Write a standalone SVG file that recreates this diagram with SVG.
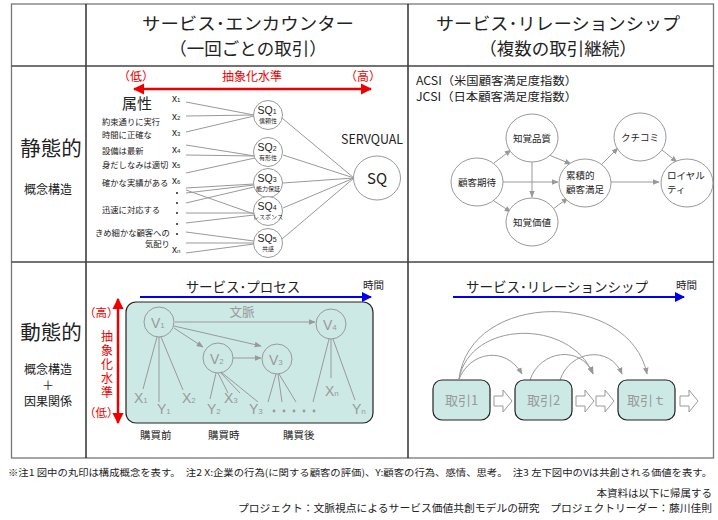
<svg xmlns="http://www.w3.org/2000/svg" width="718" height="520" viewBox="0 0 718 520">
<style>
text{font-family:"Noto Sans CJK JP","Noto Sans",sans-serif;fill:#222}
.hd{font-size:17.5px;text-anchor:middle}
.lbig{font-size:20.5px;text-anchor:middle}
.lsm{font-size:12px;text-anchor:middle}
.red{fill:#e00;font-size:12px}
.attr{font-size:8.3px}
.xl{font-size:10px;font-family:"Liberation Sans",sans-serif}
.xs{font-size:6px}
.gl{stroke:#999;stroke-width:1;fill:none}
.circ{fill:#fff;stroke:#999;stroke-width:1}
.sqt{font-size:10.5px;text-anchor:middle;font-family:"Liberation Sans",sans-serif}
.sqs{font-size:6px;text-anchor:middle}
.el{font-size:9.5px;text-anchor:middle}
.els{font-size:9.5px;text-anchor:start}
.gt{fill:#999}
.teal{fill:#cde9e6;stroke:#222;stroke-width:1.2}
.vt{font-size:14px;fill:#999;font-family:"Liberation Sans",sans-serif}
.vs{font-size:8px;fill:#999;font-family:"Liberation Sans",sans-serif}
.foot{font-size:9.5px}
.foot2{font-size:10.5px;text-anchor:end}
.vch{fill:#e00;font-size:11.5px}
.vert{fill:#e00;font-size:12px;writing-mode:vertical-rl;letter-spacing:2px}
</style>
<defs>
<marker id="ag" viewBox="0 0 10 10" refX="9" refY="5" markerWidth="7" markerHeight="7" orient="auto"><path d="M0,1 L10,5 L0,9 Z" fill="#999"/></marker>
<marker id="ab" viewBox="0 0 10 10" refX="9" refY="5" markerWidth="5" markerHeight="5" orient="auto"><path d="M0,0 L10,5 L0,10 Z" fill="#0000ee"/></marker>
<marker id="ar" viewBox="0 0 10 10" refX="9" refY="5" markerWidth="4.5" markerHeight="4.5" orient="auto-start-reverse"><path d="M0,0 L10,5 L0,10 Z" fill="#ee0000"/></marker>
</defs>
<rect width="718" height="520" fill="#fff"/>

<g id="table" stroke="#444" stroke-width="1.3" fill="none">
<rect x="11.5" y="4" width="702" height="454" stroke="#777"/>
<line x1="86" y1="4" x2="86" y2="458" stroke="#111"/>
<line x1="408" y1="4" x2="408" y2="458" stroke="#111"/>
<line x1="11.5" y1="66" x2="713.5" y2="66"/>
<line x1="11.5" y1="262" x2="713.5" y2="262"/>
</g>

<g id="headers">
<text class="hd" x="248" y="30" textLength="212" lengthAdjust="spacingAndGlyphs">サービス･エンカウンター</text>
<text class="hd" x="248" y="55">（一回ごとの取引）</text>
<text class="hd" x="558" y="30" textLength="244" lengthAdjust="spacingAndGlyphs">サービス･リレーションシップ</text>
<text class="hd" x="558" y="55">（複数の取引継続）</text>
<text class="lbig" x="51" y="156">静態的</text>
<text class="lsm" x="48" y="194">概念構造</text>
<text class="lbig" x="51" y="340">動態的</text>
<text class="lsm" x="48" y="374">概念構造</text>
<text class="lsm" x="48" y="390">＋</text>
<text class="lsm" x="48" y="406">因果関係</text>
</g>

<g id="servqual">
<text class="red" x="118" y="81">（低）</text>
<text class="red" x="222" y="81">抽象化水準</text>
<text class="red" x="345" y="81">（高）</text>
<line x1="134" y1="89" x2="371" y2="89" stroke="#ee0000" stroke-width="2.5" marker-start="url(#ar)" marker-end="url(#ar)"/>
<text x="122" y="109" font-size="15">属性</text>
<text class="attr" x="102" y="125">約束通りに実行</text>
<text class="attr" x="102" y="138">時間に正確な</text>
<text class="attr" x="102" y="154">設備は最新</text>
<text class="attr" x="102" y="168">身だしなみは適切</text>
<text class="attr" x="102" y="186">確かな実績がある</text>
<text class="attr" x="102" y="213">迅速に対応する</text>
<text class="attr" x="95" y="236">きめ細かな顧客への</text>
<text class="attr" x="145" y="247">気配り</text>
<text class="xl" x="172" y="102">x<tspan class="xs">1</tspan></text>
<text class="xl" x="172" y="120">x<tspan class="xs">2</tspan></text>
<text class="xl" x="172" y="136">x<tspan class="xs">3</tspan></text>
<text class="xl" x="172" y="153">x<tspan class="xs">4</tspan></text>
<text class="xl" x="172" y="168">x<tspan class="xs">5</tspan></text>
<text class="xl" x="172" y="184">x<tspan class="xs">6</tspan></text>
<g fill="#222"><circle cx="177" cy="193" r="1"/><circle cx="177" cy="203" r="1"/><circle cx="177" cy="213" r="1"/><circle cx="177" cy="224" r="1"/><circle cx="177" cy="234" r="1"/></g>
<text class="xl" x="172" y="253">x<tspan class="xs">n</tspan></text>
<g class="gl">
<line x1="186" y1="102" x2="254" y2="115"/>
<line x1="186" y1="116" x2="254" y2="115"/>
<line x1="186" y1="132" x2="254" y2="116"/>
<line x1="186" y1="145" x2="255" y2="156"/>
<line x1="186" y1="155" x2="255" y2="156"/>
<line x1="186" y1="173" x2="255" y2="158"/>
<line x1="186" y1="188" x2="254" y2="184"/>
<line x1="186" y1="193" x2="254" y2="185"/>
<line x1="186" y1="203" x2="254" y2="187"/>
<line x1="186" y1="190" x2="254" y2="214"/>
<line x1="186" y1="213" x2="254" y2="213"/>
<line x1="186" y1="223" x2="254" y2="215"/>
<line x1="186" y1="232" x2="254" y2="241"/>
<line x1="186" y1="243" x2="254" y2="243"/>
<line x1="186" y1="253" x2="254" y2="244"/>
<line x1="282" y1="118" x2="354" y2="178"/>
<line x1="283" y1="155" x2="354" y2="178"/>
<line x1="283" y1="183" x2="354" y2="178"/>
<line x1="283" y1="208" x2="354" y2="178"/>
<line x1="282" y1="239" x2="354" y2="178"/>
</g>
</g>

<g id="sq1"><circle class="circ" cx="268" cy="115" r="14.5"/><text class="sqt" x="267" y="114">SQ<tspan font-size="7">1</tspan></text><text class="sqs" x="268" y="123">信頼性</text></g>
<g id="sq2"><circle class="circ" cx="268" cy="152" r="14.5"/><text class="sqt" x="267" y="151">SQ<tspan font-size="7">2</tspan></text><text class="sqs" x="268" y="160">有形性</text></g>
<g id="sq3"><circle class="circ" cx="268" cy="183" r="14.5"/><text class="sqt" x="267" y="182">SQ<tspan font-size="7">3</tspan></text><text class="sqs" x="268" y="191">能力保証</text></g>
<g id="sq4"><circle class="circ" cx="268" cy="211" r="14.5"/><text class="sqt" x="267" y="210">SQ<tspan font-size="7">4</tspan></text><text class="sqs" x="268" y="219">レスポンス</text></g>
<g id="sq5"><circle class="circ" cx="268" cy="243" r="14.5"/><text class="sqt" x="267" y="242">SQ<tspan font-size="7">5</tspan></text><text class="sqs" x="268" y="251">共感</text></g>
<g id="sq"><text x="372" y="144" font-size="13" text-anchor="middle" font-family="Liberation Sans,sans-serif" textLength="62" lengthAdjust="spacingAndGlyphs">SERVQUAL</text><ellipse class="circ" cx="377" cy="178" rx="23.5" ry="22"/><text x="377" y="184" font-size="15" text-anchor="middle" font-family="Liberation Sans,sans-serif">SQ</text></g>

<g id="acsi">
<text x="416" y="85" font-size="11.5" textLength="161" lengthAdjust="spacingAndGlyphs">ACSI（米国顧客満足度指数）</text>
<text x="416" y="101" font-size="11.5" textLength="161" lengthAdjust="spacingAndGlyphs">JCSI（日本顧客満足度指数）</text>
</g>
<g id="acsi-connectors" class="gl" marker-end="url(#ag)">
<line x1="494" y1="163" x2="511" y2="150"/>
<line x1="494" y1="201" x2="511" y2="212"/>
<line x1="503" y1="182" x2="558" y2="182"/>
<line x1="532" y1="162" x2="532" y2="197"/>
<line x1="549" y1="155" x2="571" y2="164"/>
<line x1="553" y1="209" x2="568" y2="198"/>
<line x1="602" y1="164" x2="618" y2="148"/>
<line x1="611" y1="182" x2="659" y2="182"/>
<line x1="662" y1="150" x2="677" y2="162"/>
</g>
<g id="kitai"><ellipse class="circ" cx="477" cy="182" rx="26" ry="24"/><text class="el" x="477" y="186">顧客期待</text></g>
<g id="hinshitsu"><ellipse class="circ" cx="532" cy="138" rx="26" ry="24"/><text class="el" x="532" y="142">知覚品質</text></g>
<g id="kachi"><ellipse class="circ" cx="532" cy="222" rx="26" ry="24"/><text class="el" x="532" y="226">知覚価値</text></g>
<g id="manzoku"><ellipse class="circ" cx="585" cy="183" rx="26" ry="24"/><text class="els" x="566" y="179">累積的</text><text class="els" x="566" y="193">顧客満足</text></g>
<g id="kuchikomi"><ellipse class="circ" cx="640" cy="137" rx="26" ry="24"/><text class="el" x="640" y="141">クチコミ</text></g>
<g id="loyalty"><ellipse class="circ" cx="687" cy="183" rx="26" ry="24"/><text class="els" x="667" y="179">ロイヤル</text><text class="els" x="667" y="193">ティ</text></g>

<g id="process">
<text x="243" y="292" font-size="13.5" text-anchor="middle">サービス･プロセス</text>
<text x="363" y="289" font-size="10.5">時間</text>
<line x1="140" y1="297" x2="371" y2="297" stroke="#0000ee" stroke-width="2" marker-end="url(#ab)"/>
<line x1="118" y1="299" x2="118" y2="423" stroke="#ee0000" stroke-width="2.5" marker-start="url(#ar)" marker-end="url(#ar)"/>
<text class="vch" x="84" y="317">（高）</text>
<text class="vert" x="107" y="330">抽象化水準</text>
<text class="vch" x="84" y="417">（低）</text>
<rect class="teal" x="126" y="302" width="247" height="121" rx="10"/>
<text x="242" y="317" font-size="12.5" text-anchor="middle" class="gt">文脈</text>
<g class="gl">
<line x1="157" y1="337" x2="143" y2="389"/>
<line x1="159" y1="337" x2="159" y2="402"/>
<line x1="161" y1="337" x2="183" y2="390"/>
<line x1="216" y1="373" x2="210" y2="399"/>
<line x1="218" y1="373" x2="228" y2="393"/>
<line x1="220" y1="372" x2="240" y2="393"/>
<line x1="221" y1="372" x2="258" y2="402"/>
<line x1="276" y1="374" x2="268" y2="402"/>
<line x1="278" y1="374" x2="282" y2="402"/>
<line x1="279" y1="374" x2="296" y2="402"/>
<line x1="329" y1="339" x2="313" y2="402"/>
<line x1="331" y1="339" x2="331" y2="378"/>
<line x1="333" y1="339" x2="355" y2="400"/>
</g>
<g class="gl" marker-end="url(#ag)">
<line x1="175" y1="322" x2="315" y2="322"/>
<line x1="174" y1="328" x2="203" y2="347"/>
<line x1="174" y1="326" x2="261" y2="346"/>
<line x1="233" y1="358" x2="261" y2="358"/>
</g>
</g>
<g id="v1"><circle cx="159" cy="322" r="15" fill="none" stroke="#999"/><text class="vt" x="151" y="328">V<tspan class="vs">1</tspan></text></g>
<g id="v2"><circle cx="218" cy="358" r="15" fill="none" stroke="#999"/><text class="vt" x="210" y="364">V<tspan class="vs">2</tspan></text></g>
<g id="v3"><circle cx="277" cy="359" r="15" fill="none" stroke="#999"/><text class="vt" x="269" y="365">V<tspan class="vs">3</tspan></text></g>
<g id="v4"><circle cx="331" cy="324" r="15" fill="none" stroke="#999"/><text class="vt" x="323" y="330">V<tspan class="vs">4</tspan></text></g>
<g id="xy-labels">
<text class="vt" x="134" y="403">X<tspan class="vs">1</tspan></text>
<text class="vt" x="157" y="414">Y<tspan class="vs">1</tspan></text>
<text class="vt" x="182" y="403">X<tspan class="vs">2</tspan></text>
<text class="vt" x="207" y="414">Y<tspan class="vs">2</tspan></text>
<text class="vt" x="224" y="403">X<tspan class="vs">3</tspan></text>
<text class="vt" x="249" y="414">Y<tspan class="vs">3</tspan></text>
<g fill="#999"><circle cx="274" cy="411" r="1.4"/><circle cx="284" cy="411" r="1.4"/><circle cx="294" cy="411" r="1.4"/><circle cx="304" cy="411" r="1.4"/><circle cx="314" cy="411" r="1.4"/></g>
<text class="vt" x="325" y="396">X<tspan class="vs">n</tspan></text>
<text class="vt" x="352" y="414">Y<tspan class="vs">n</tspan></text>
<text x="140" y="439" font-size="10.5">購買前</text>
<text x="208" y="439" font-size="10.5">購買時</text>
<text x="283" y="439" font-size="10.5">購買後</text>
</g>

<g id="relationship">
<text x="557" y="292" font-size="13.5" text-anchor="middle">サービス･リレーションシップ</text>
<text x="676" y="289" font-size="10.5">時間</text>
<line x1="453" y1="297" x2="684" y2="297" stroke="#0000ee" stroke-width="2" marker-end="url(#ab)"/>
</g>
<g id="curves" class="gl" marker-end="url(#ag)">
<path d="M459,379 C470,352 505,345 522,374"/>
<path d="M459,379 C470,320 570,318 593,374"/>
<path d="M459,379 C470,290 630,290 647,374"/>
<path d="M530,380 C540,350 580,345 593,373"/>
<path d="M560,380 C570,350 610,345 622,374"/>
</g>
<g id="torihiki1"><rect class="teal" x="433" y="380" width="57" height="40" rx="9"/><text x="461.5" y="405" font-size="13" text-anchor="middle" class="gt">取引1</text></g>
<g id="torihiki2"><rect class="teal" x="515" y="380" width="57" height="40" rx="9"/><text x="543.5" y="405" font-size="13" text-anchor="middle" class="gt">取引2</text></g>
<g id="torihikit"><rect class="teal" x="618" y="380" width="57" height="40" rx="9"/><text x="646.5" y="405" font-size="13" text-anchor="middle" class="gt">取引ｔ</text></g>
<g id="block-arrows" fill="#fff" stroke="#999" stroke-width="1">
<path d="M494,396 H503 V390 L512,401 L503,412 V406 H494 Z"/>
<path d="M576,396 H585 V390 L594,401 L585,412 V406 H576 Z"/>
<path d="M596,396 H605 V390 L614,401 L605,412 V406 H596 Z"/>
<path d="M680,396 H689 V390 L698,401 L689,412 V406 H680 Z"/>
</g>

<g id="footer">
<text class="foot" x="8" y="476" textLength="704" lengthAdjust="spacingAndGlyphs">※注1 図中の丸印は構成概念を表す。　注2 X:企業の行為(に関する顧客の評価)、Y:顧客の行為、感情、思考。　注3 左下図中のVは共創される価値を表す。</text>
<text class="foot2" x="712" y="497">本資料は以下に帰属する</text>
<text class="foot2" x="712" y="512" textLength="474" lengthAdjust="spacingAndGlyphs">プロジェクト：文脈視点によるサービス価値共創モデルの研究　プロジェクトリーダー：藤川佳則</text>
</g>
</svg>
